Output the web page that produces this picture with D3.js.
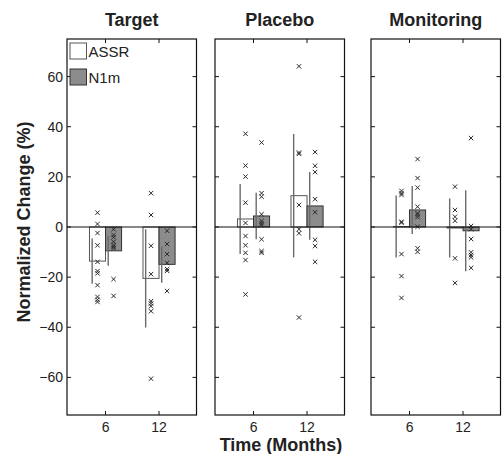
<!DOCTYPE html>
<html>
<head>
<meta charset="utf-8">
<script src="https://cdn.jsdelivr.net/npm/d3@7"></script>
<style>
  body { margin: 0; background: #fff; }
  text { font-family: Arial, "Liberation Sans", Helvetica, sans-serif; fill: #222; }
</style>
</head>
<body>
<div id="chart"></div>
<script>
// groups and time points
const groups = ["Target", "Placebo", "Monitoring"];
const months = [6, 12];
const yTicks = [-60, -40, -20, 0, 20, 40, 60];

// bar heights (mean) and error bar half-lengths, [6 months, 12 months]
const assrMean = [[-13.6, -20.5], [3.2, 12.5], [0.2, -0.4]];
const assrSd   = [[9.0, 19.6], [14.0, 24.6], [12.4, 11.8]];
const n1mMean  = [[-9.5, -14.9], [4.4, 8.4], [6.8, -1.5]];
const n1mSd    = [[6.0, 7.3], [9.3, 13.5], [9.6, 16.2]];

// individual subjects
const assrPoints = [
    [[5.7, 1.2, -2.4, -7.3, -13.9, -17.6, -18.5, -23.2, -27.9, -29.0, -29.9],
     [13.5, 4.8, -7.5, -18.8, -29.6, -30.5, -31.6, -33.6, -60.5]],
    [[37.2, 24.5, 20.1, 9.7, 1.6, -3.6, -7.3, -10.3, -13.2, -26.9],
     [64.1, 29.7, 29.2, 8.8, -0.9, -2.5, -36.1]],
    [[14.4, 13.5, 12.8, 2.1, 1.7, -10.8, -19.6, -28.3],
     [16.1, 6.8, 4.1, 2.5, -12.5, -22.3]]
];
const n1mPoints = [
    [[-0.9, -3.2, -4.1, -5.9, -7.2, -7.9, -8.5, -20.8, -27.5],
     [-1.5, -6.8, -10.8, -14.3, -16.8, -17.5, -25.5]],
    [[33.7, 13.5, 12.1, 5.1, 2.4, 1.5, 0.8, -4.9, -9.6, -10.3],
     [29.9, 24.4, 21.9, 11.1, 5.9, -5.1, -7.6, -13.9]],
    [[27.1, 19.5, 15.7, 8.1, 5.5, 4.8, 3.9, 0.1, -8.5, -9.9],
     [35.5, 0.4, -0.9, -4.8, -10.1, -11.2, -12.1, -16.3]]
];

const W = 502, H = 454;
const panelLeft = [67, 215, 371];
const panelW = 129.5;
const plotTop = 39, plotBottom = 415;
const barW = 1.8;      // in months units
const tickLen = 4;

const svg = d3.select("#chart").append("svg")
    .attr("width", W)
    .attr("height", H);

const y = d3.scaleLinear().domain([-75, 75]).range([plotBottom, plotTop]);

groups.forEach((g, gi) => {
    const x = d3.scaleLinear()
        .domain([1.68, 16.2])
        .range([panelLeft[gi], panelLeft[gi] + panelW]);
    const panel = svg.append("g");

    // bars
    months.forEach((m, mi) => {
        const series = [
            { mean: assrMean[gi][mi], sd: assrSd[gi][mi], pts: assrPoints[gi][mi], x0: m - barW, fill: "#fff", stroke: "#555" },
            { mean: n1mMean[gi][mi], sd: n1mSd[gi][mi], pts: n1mPoints[gi][mi], x0: m, fill: "#8c8c8c", stroke: "#333" }
        ];
        series.forEach(s => {
            panel.append("rect")
                .attr("x", x(s.x0))
                .attr("y", y(Math.max(0, s.mean)))
                .attr("width", x(s.x0 + barW) - x(s.x0))
                .attr("height", Math.abs(y(s.mean) - y(0)))
                .attr("fill", s.fill)
                .attr("stroke", s.stroke)
                .attr("stroke-width", 1);

            // error bar sits near the left side of the bar
            const ex = x(s.x0 + 0.3);
            panel.append("line")
                .attr("x1", ex).attr("x2", ex)
                .attr("y1", y(s.mean - s.sd))
                .attr("y2", y(s.mean + s.sd))
                .attr("stroke", "#6a6a6a")
                .attr("stroke-width", 1.4);

            const cx = x(s.x0 + barW / 2);
            s.pts.forEach(v => {
                const cy = y(v);
                panel.append("path")
                    .attr("d", `M${cx - 2.2},${cy - 2.2}L${cx + 2.2},${cy + 2.2}M${cx - 2.2},${cy + 2.2}L${cx + 2.2},${cy - 2.2}`)
                    .attr("stroke", "#2a2a2a")
                    .attr("stroke-width", 1);
            });
        });
    });

    // zero line
    panel.append("line")
        .attr("x1", x.range()[0]).attr("x2", x.range()[1])
        .attr("y1", y(0)).attr("y2", y(0))
        .attr("stroke", "#111")
        .attr("stroke-width", 1);

    // inward ticks on all four sides
    yTicks.forEach(t => {
        panel.append("line")
            .attr("x1", x.range()[0]).attr("x2", x.range()[0] + tickLen)
            .attr("y1", y(t)).attr("y2", y(t))
            .attr("stroke", "#111");
        panel.append("line")
            .attr("x1", x.range()[1] - tickLen).attr("x2", x.range()[1])
            .attr("y1", y(t)).attr("y2", y(t))
            .attr("stroke", "#111");
    });
    months.forEach(m => {
        panel.append("line")
            .attr("x1", x(m)).attr("x2", x(m))
            .attr("y1", plotBottom).attr("y2", plotBottom - tickLen)
            .attr("stroke", "#111");
        panel.append("line")
            .attr("x1", x(m)).attr("x2", x(m))
            .attr("y1", plotTop).attr("y2", plotTop + tickLen)
            .attr("stroke", "#111");
        panel.append("text")
            .attr("x", x(m))
            .attr("y", 432)
            .attr("text-anchor", "middle")
            .attr("font-size", "14px")
            .text(m);
    });

    // box
    panel.append("rect")
        .attr("x", x.range()[0])
        .attr("y", plotTop)
        .attr("width", panelW)
        .attr("height", plotBottom - plotTop)
        .attr("fill", "none")
        .attr("stroke", "#111")
        .attr("stroke-width", 1.2);

    // title
    svg.append("text")
        .attr("x", panelLeft[gi] + panelW / 2)
        .attr("y", 26)
        .attr("text-anchor", "middle")
        .attr("font-size", "18px")
        .attr("font-weight", "bold")
        .text(g);

    if (gi === 0) {
        yTicks.forEach(t => {
            svg.append("text")
                .attr("x", panelLeft[0] - 4)
                .attr("y", y(t) + 5)
                .attr("text-anchor", "end")
                .attr("font-size", "14px")
                .text(t < 0 ? "\u2212" + Math.abs(t) : t);
        });
    }
});

// legend
const legend = [
    { name: "ASSR", fill: "#fff", stroke: "#555" },
    { name: "N1m", fill: "#8c8c8c", stroke: "#333" }
];
legend.forEach((d, i) => {
    const ly = 43 + i * 26;
    svg.append("rect")
        .attr("x", 70).attr("y", ly)
        .attr("width", 16.5).attr("height", 16)
        .attr("fill", d.fill)
        .attr("stroke", d.stroke);
    svg.append("text")
        .attr("x", 88.5).attr("y", ly + 14)
        .attr("font-size", "15px")
        .text(d.name);
});

// axis labels
svg.append("text")
    .attr("transform", "translate(30,222) rotate(-90)")
    .attr("text-anchor", "middle")
    .attr("font-size", "18px")
    .attr("font-weight", "bold")
    .text("Normalized Change (%)");

svg.append("text")
    .attr("x", 281)
    .attr("y", 451)
    .attr("text-anchor", "middle")
    .attr("font-size", "18px")
    .attr("font-weight", "bold")
    .text("Time (Months)");
</script>
</body>
</html>
